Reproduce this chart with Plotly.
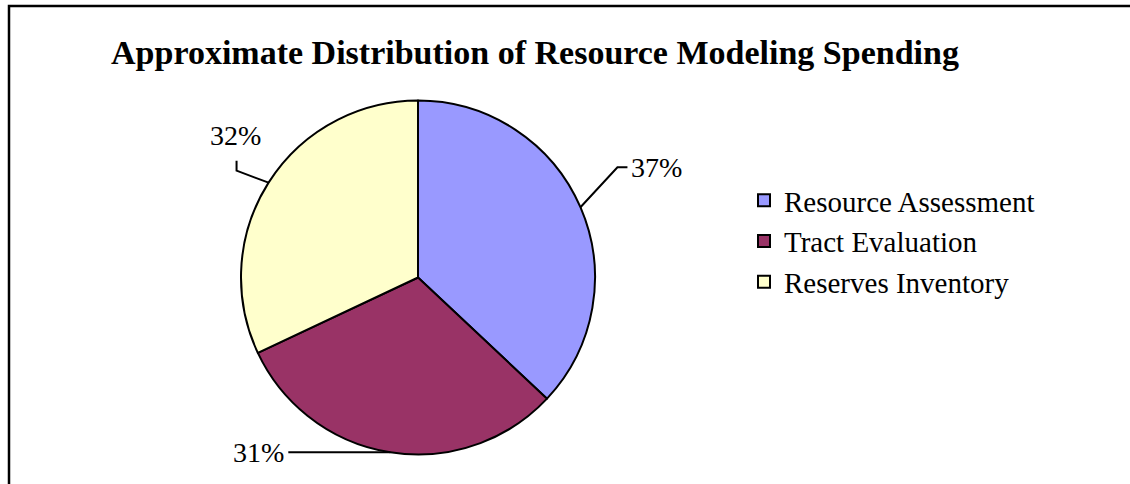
import math
import plotly.graph_objects as go

# ---- data ----
categories = ["Resource Assessment", "Tract Evaluation", "Reserves Inventory"]
shares = [37, 31, 32]
colors = ["#9999FF", "#993366", "#FFFFCC"]
title_text = "Approximate Distribution of Resource Modeling Spending"

W, H = 1130, 484
FONT = "Liberation Serif, Times New Roman, serif"

def px(x):
    return x / W

def py(y):
    return 1 - y / H

# pie geometry (pixels)
cx, cy, r = 418, 277.5, 177

fig = go.Figure()
fig.add_trace(go.Pie(
    labels=categories,
    values=shares,
    sort=False,
    direction="clockwise",
    rotation=0,
    marker=dict(colors=colors, line=dict(color="black", width=2)),
    textinfo="none",
    hoverinfo="label+percent",
    domain=dict(x=[px(cx - r), px(cx + r)], y=[py(cy + r), py(cy - r)]),
    showlegend=True,
))

# leader lines + labels computed from the data
total = sum(shares)
label_layout = [
    dict(elbow=(37, -40), end=(47, -40), anchor=("left", "middle"), toff=(2, 0)),
    dict(elbow=(-102, 0), end=(-102, 0), anchor=("right", "middle"), toff=(-2, 0)),
    dict(elbow=(-32, -12), end=(-32, -22), anchor=("center", "bottom"), toff=(-1, -8)),
]
shapes = []
annotations = []
cum = 0
for val, lay in zip(shares, label_layout):
    mid = (cum + val / 2) / total * 2 * math.pi
    cum += val
    ex = cx + r * math.sin(mid)
    ey = cy - r * math.cos(mid)
    bx, by = ex + lay["elbow"][0], ey + lay["elbow"][1]
    fx, fy = ex + lay["end"][0], ey + lay["end"][1]
    path = f"M {px(ex)} {py(ey)} L {px(bx)} {py(by)} L {px(fx)} {py(fy)}"
    shapes.append(dict(type="path", xref="paper", yref="paper", path=path,
                       line=dict(color="black", width=2)))
    pct = round(val / total * 100)
    annotations.append(dict(
        x=px(fx + lay["toff"][0]), y=py(fy + lay["toff"][1]), xref="paper", yref="paper",
        text=f"{pct}%", showarrow=False,
        xanchor=lay["anchor"][0], yanchor=lay["anchor"][1],
        font=dict(family=FONT, size=28, color="black"),
    ))

# chart border (cropped at right/bottom like the reference)
shapes.append(dict(type="rect", xref="paper", yref="paper",
                   x0=px(9), y0=py(H + 20), x1=px(W + 20), y1=py(6),
                   line=dict(color="black", width=2.5), fillcolor="rgba(0,0,0,0)"))

fig.update_layout(
    width=W, height=H,
    margin=dict(l=0, r=0, t=0, b=0),
    paper_bgcolor="white",
    plot_bgcolor="white",
    title=dict(text=f"<b>{title_text}</b>", x=px(535), xanchor="center",
               y=py(52), yanchor="middle",
               font=dict(family=FONT, size=34, color="black")),
    legend=dict(x=px(744), y=py(175), xanchor="left", yanchor="top",
                font=dict(family=FONT, size=29, color="black"),
                bgcolor="rgba(0,0,0,0)", traceorder="normal"),
    shapes=shapes,
    annotations=annotations,
)

fig.write_html("out.html", config={"displayModeBar": False},
               post_script="document.body.style.margin='0';document.body.style.overflow='hidden';")
